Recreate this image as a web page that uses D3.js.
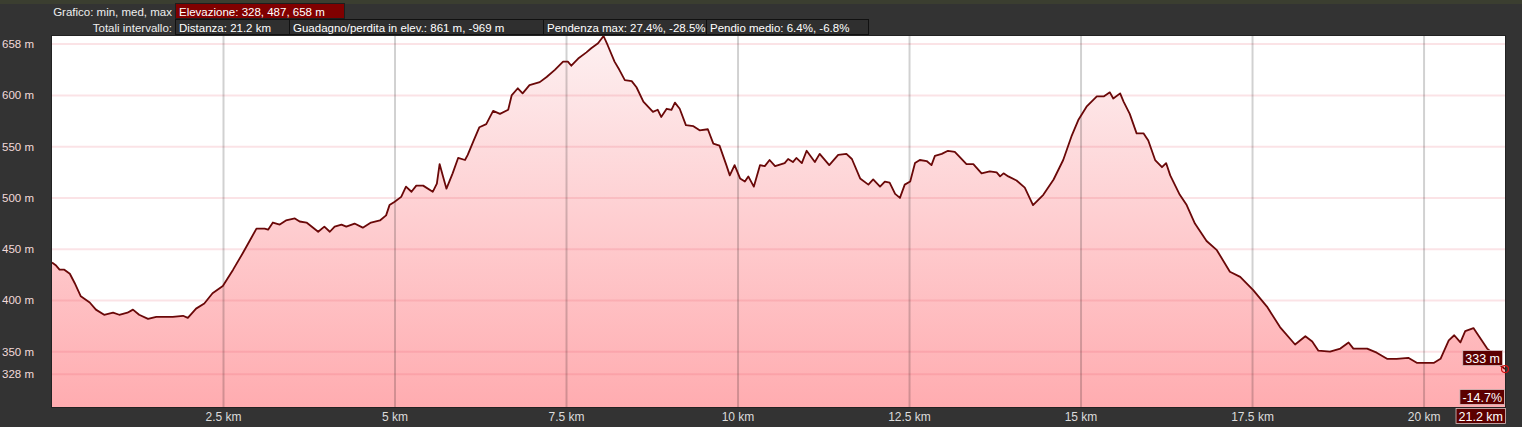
<!DOCTYPE html>
<html><head><meta charset="utf-8">
<script src="https://cdn.jsdelivr.net/npm/d3@7"></script>
<style>
html,body{margin:0;padding:0;background:#333;overflow:hidden}
svg{display:block;font-family:Arial,"Liberation Sans",sans-serif}
</style></head>
<body><svg id="c" width="1522" height="427"></svg>
<script>
const distKm = [0,0.06,0.11,0.18,0.26,0.33,0.42,0.55,0.64,0.76,
0.89,0.98,1.10,1.18,1.27,1.40,1.52,1.64,1.76,1.91,
1.98,2.10,2.22,2.34,2.49,2.64,2.78,2.88,2.98,3.10,
3.15,3.22,3.32,3.41,3.54,3.61,3.71,3.88,3.97,4.05,
4.12,4.22,4.29,4.41,4.53,4.65,4.78,4.87,4.92,4.99,
5.09,5.16,5.24,5.31,5.41,5.55,5.61,5.65,5.70,5.75,
5.84,5.92,6.02,6.06,6.14,6.23,6.33,6.43,6.53,6.65,
6.70,6.79,6.86,6.96,7.11,7.21,7.33,7.45,7.52,7.57,
7.67,7.79,7.86,7.96,8.04,8.10,8.20,8.27,8.35,8.45,
8.52,8.62,8.76,8.83,8.88,8.96,9.03,9.08,9.15,9.24,
9.35,9.44,9.56,9.64,9.73,9.83,9.88,9.95,10.03,10.10,
10.15,10.23,10.32,10.39,10.46,10.54,10.68,10.73,10.80,10.85,
10.93,11.00,11.12,11.19,11.33,11.46,11.58,11.66,11.78,11.90,
11.97,12.07,12.14,12.21,12.29,12.36,12.43,12.51,12.58,12.65,
12.75,12.82,12.87,12.97,13.06,13.16,13.23,13.33,13.43,13.55,
13.67,13.77,13.82,13.87,13.94,14.06,14.18,14.30,14.45,14.60,
14.74,14.86,14.96,15.08,15.23,15.33,15.42,15.47,15.57,15.62,
15.71,15.81,15.91,15.98,16.08,16.18,16.24,16.30,16.44,16.54,
16.66,16.83,16.98,17.17,17.32,17.51,17.71,17.90,18.12,18.27,
18.37,18.46,18.63,18.78,18.90,18.97,19.17,19.31,19.46,19.60,
19.77,19.90,20.14,20.24,20.36,20.44,20.53,20.60,20.72,20.82,
20.92,21.01,21.11,21.18];
const elevM = [437,434,430,430,426,417,404,398,391,386,
388,386,388,391,386,382,384,384,384,385,
383,392,397,407,414,430,446,458,470,470,
469,476,474,478,480,477,476,467,472,467,
472,474,472,475,471,476,478,483,493,496,
501,511,506,512,512,506,514,533,521,509,
524,539,537,542,555,569,572,585,582,586,
600,607,602,610,613,618,625,633,633,629,
636,642,646,651,658,649,633,625,615,614,
608,594,584,586,579,587,586,593,587,571,
570,566,567,553,551,532,522,532,519,516,
521,511,532,531,537,531,534,538,535,539,
534,546,535,543,532,542,543,538,519,513,
518,511,516,515,504,500,513,516,534,537,
536,532,541,543,546,545,540,533,533,524,
526,525,521,524,521,517,510,493,503,518,
537,560,576,589,599,599,603,597,602,594,
582,563,563,556,537,530,534,522,503,493,
475,458,449,428,423,410,394,374,357,365,
360,351,350,353,359,353,353,349,343,343,
344,339,339,343,361,366,359,370,373,363,
353,348,337,333];
const yTicks = [328,350,400,450,500,550,600,658];
const xTicks = [2.5,5,7.5,10,12.5,15,17.5,20];
const xTickLabels = ["2.5 km","5 km","7.5 km","10 km","12.5 km","15 km","17.5 km","20 km"];
const headerRow1Label = "Grafico: min, med, max";
const headerRow1Box = "Elevazione: 328, 487, 658 m";
const headerRow2Label = "Totali intervallo:";
const headerRow2Boxes = ["Distanza: 21.2 km","Guadagno/perdita in elev.: 861 m, -969 m","Pendenza max: 27.4%, -28.5%","Pendio medio: 6.4%, -6.8%"];
const endElevLabel = "333 m";
const endSlopeLabel = "-14.7%";
const endDistLabel = "21.2 km";

const svg = d3.select("#c");
const L = 52, R = 1505, T = 36, B = 407;
const x = d3.scaleLinear().domain([0, 21.18]).range([L, R]);
const y = d3.scaleLinear().domain([296, 658]).range([B, T]);
const data = distKm.map((d,i)=>({d, e: elevM[i]}));

svg.append("rect").attr("x",0).attr("y",0).attr("width",1522).attr("height",4).attr("fill","#3b3e30");

const defs = svg.append("defs");
const g = defs.append("linearGradient").attr("id","fillG").attr("gradientUnits","userSpaceOnUse")
  .attr("x1",0).attr("x2",0).attr("y1",T).attr("y2",B);
g.append("stop").attr("offset","0%").attr("stop-color","#fdf0f1");
g.append("stop").attr("offset","100%").attr("stop-color","#ffacb0");

svg.append("rect").attr("x",L).attr("y",T).attr("width",R-L).attr("height",B-T).attr("fill","#ffffff");

const area = d3.area().x(d=>x(d.d)).y0(B).y1(d=>y(d.e));
svg.append("path").datum(data).attr("d",area).attr("fill","url(#fillG)");

const yPos = v => Math.max(y(v), T + 8);
svg.append("g").selectAll("line").data(yTicks).join("line")
  .attr("x1",L).attr("x2",R).attr("y1",d=>yPos(d)).attr("y2",d=>yPos(d))
  .attr("stroke","rgba(230,80,100,0.16)").attr("stroke-width",2);
svg.append("g").selectAll("line").data(xTicks).join("line")
  .attr("x1",d=>x(d)).attr("x2",d=>x(d)).attr("y1",T).attr("y2",B)
  .attr("stroke","rgba(0,0,0,0.18)").attr("stroke-width",2);

const line = d3.line().x(d=>x(d.d)).y(d=>y(d.e));
svg.append("path").datum(data).attr("d",line).attr("fill","none")
  .attr("stroke","#6a0808").attr("stroke-width",1.8).attr("stroke-linejoin","round");

svg.append("rect").attr("x",L-0.5).attr("y",T-0.5).attr("width",R-L+1).attr("height",B-T+1)
  .attr("fill","none").attr("stroke","#222").attr("stroke-width",1);

svg.append("g").selectAll("text").data(yTicks).join("text")
  .attr("x",2).attr("y",d=>yPos(d)+4).attr("font-size",11.5).attr("fill","#f2dada")
  .text(d=>d+" m");
svg.append("g").selectAll("text").data(xTicks).join("text")
  .attr("x",d=>x(d)).attr("y",421).attr("text-anchor","middle").attr("font-size",12).attr("fill","#dcdcdc")
  .text((d,i)=>xTickLabels[i]);

const hdr = svg.append("g").attr("font-size",11.5);
hdr.append("text").attr("x",172).attr("y",15.5).attr("text-anchor","end").attr("fill","#eeeeee").text(headerRow1Label);
hdr.append("rect").attr("x",175.5).attr("y",3.5).attr("width",169).attr("height",15).attr("fill","#800000").attr("stroke","#1e1e1e");
hdr.append("text").attr("x",179).attr("y",15.5).attr("fill","#ffffff").text(headerRow1Box);
hdr.append("text").attr("x",172).attr("y",31.5).attr("text-anchor","end").attr("fill","#eeeeee").text(headerRow2Label);
const bx = [175,289,543,706,868];
headerRow2Boxes.forEach((t,i)=>{
  hdr.append("rect").attr("x",bx[i]+0.5).attr("y",19.5).attr("width",bx[i+1]-bx[i]).attr("height",15)
    .attr("fill","#2f2f2f").attr("stroke","#111");
  hdr.append("text").attr("x",bx[i]+4).attr("y",31.5).attr("fill","#ffffff").text(t);
});

const last = data[data.length-1];
const ex = x(last.d), ey = y(last.e);
function tag(xr, yc, txt){
  const t = svg.append("text").attr("font-size",12.5).attr("fill","#ffffff").attr("text-anchor","end")
    .attr("x",xr-2).attr("y",yc+4.5).text(txt);
  const w = t.node().getComputedTextLength();
  svg.insert("rect", function(){return t.node();})
    .attr("x",xr-w-4.5).attr("y",yc-7.5).attr("width",w+5).attr("height",15)
    .attr("fill","#5c0000").attr("stroke","#d8c0c0").attr("stroke-width",0.8);
}
tag(ex-3, ey-11, endElevLabel);
tag(ex-1, 397, endSlopeLabel);
tag(ex, 416, endDistLabel);
svg.append("circle").attr("cx",ex).attr("cy",ey).attr("r",3.5).attr("fill","none").attr("stroke","#d01010").attr("stroke-width",1.2);
</script></body></html>
